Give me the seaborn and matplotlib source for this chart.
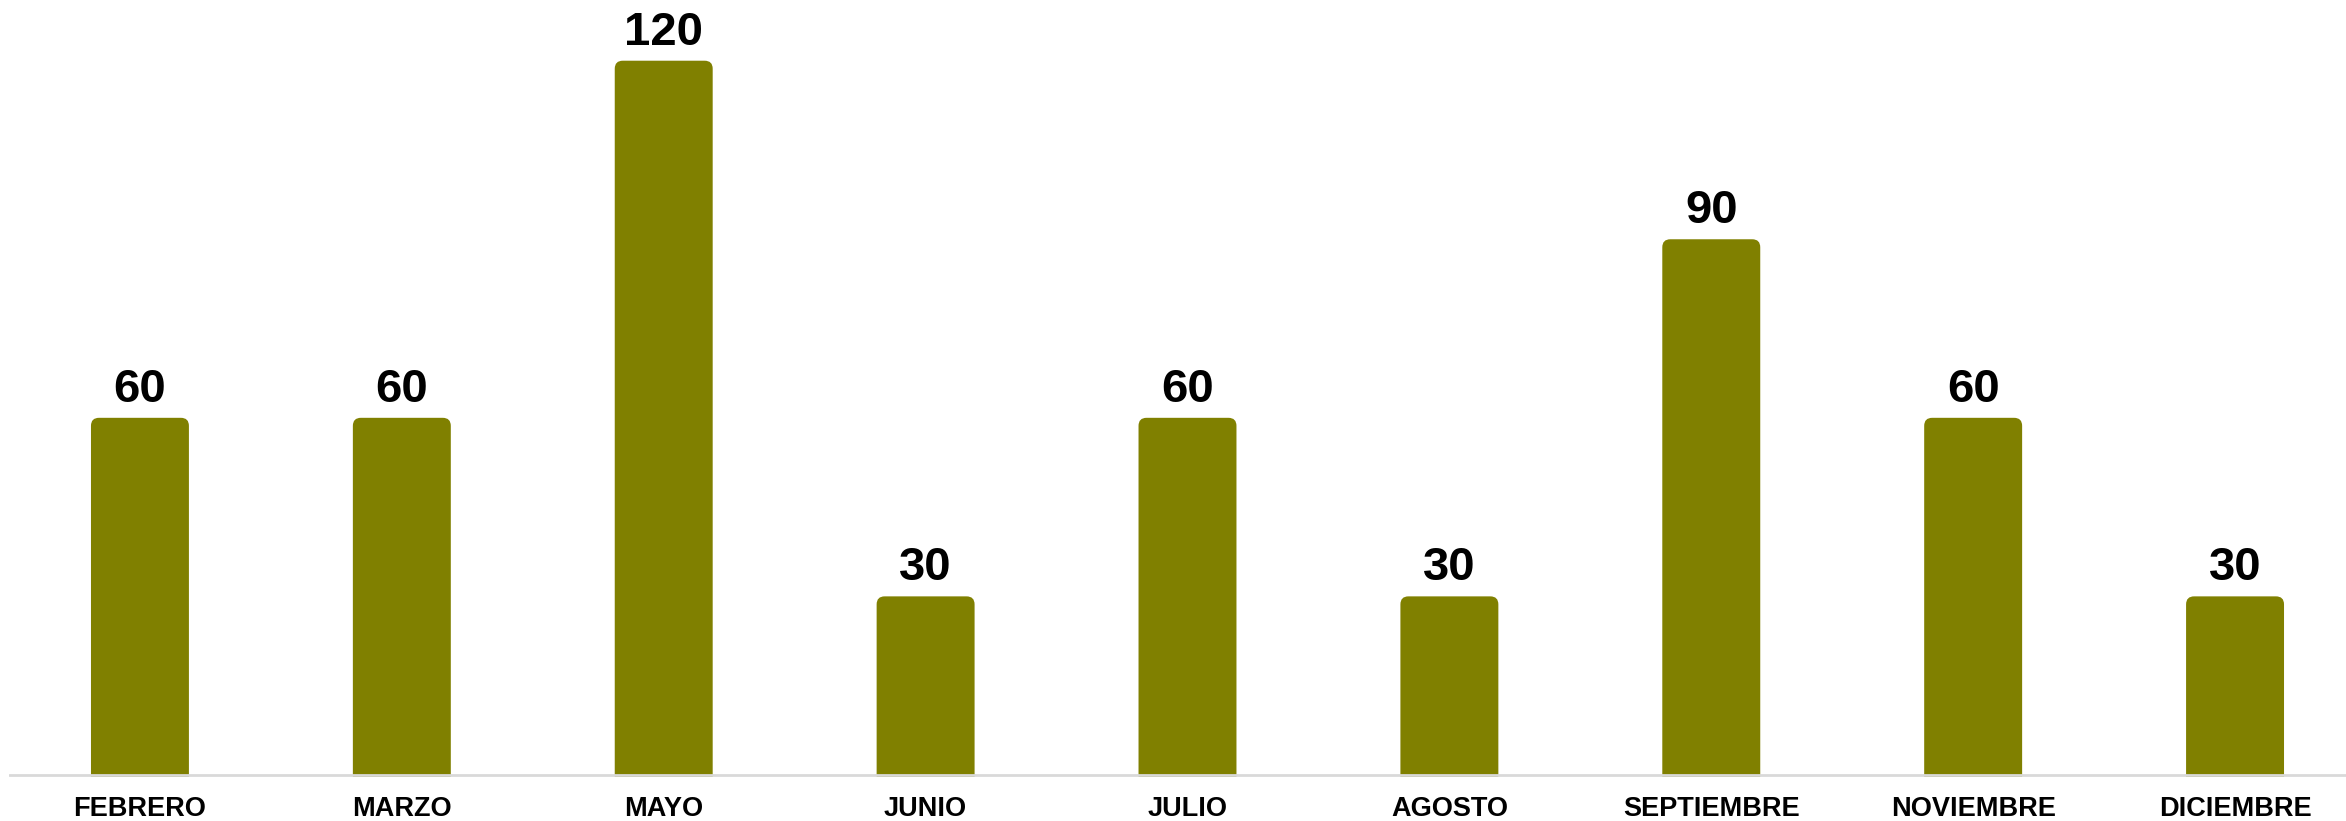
import matplotlib
matplotlib.use("Agg")

import matplotlib.pyplot as plt
import pandas as pd
import seaborn as sns
from matplotlib.patches import FancyBboxPatch

# -- data ------------------------------------------------------------
months = ["FEBRERO", "MARZO", "MAYO", "JUNIO", "JULIO",
          "AGOSTO", "SEPTIEMBRE", "NOVIEMBRE", "DICIEMBRE"]
values = [60, 60, 120, 30, 60, 30, 90, 60, 30]

BAR_COLOR = "#808000"
AXIS_COLOR = "#d9d9d9"

sns.set_theme(style="white")
plt.rcParams["font.family"] = ["Liberation Sans", "DejaVu Sans"]

df = pd.DataFrame({"month": months, "value": values})

fig = plt.figure(figsize=(23.46, 8.21), dpi=100)
ax = fig.add_axes([9 / 2346, 44 / 821, 1 - 9 / 2346, 777 / 821])

sns.barplot(data=df, x="month", y="value", color=BAR_COLOR,
            width=0.374, saturation=1, ax=ax)

ax.set_xlim(-0.5, (2346 - 139) / 262)
ax.set_ylim(-0.35, 130.2)

# swap plain bars for rounded ones
x_per_px = 1 / 262
y_per_px = 130.55 / 777
for p in list(ax.patches):
    x, w, h = p.get_x(), p.get_width(), p.get_height()
    rb = FancyBboxPatch((x, -3), w, h + 3,
                        boxstyle=f"round,pad=0,rounding_size={8 * x_per_px}",
                        mutation_aspect=y_per_px / x_per_px,
                        facecolor=BAR_COLOR, edgecolor="none", zorder=2)
    p.remove()
    ax.add_patch(rb)
    ax.text(x + w / 2, h + 1.0, f"{h:.0f}", ha="center", va="bottom",
            fontsize=34, fontweight="bold", color="black")

ax.axhline(0, color=AXIS_COLOR, linewidth=2, zorder=3)
for s in ax.spines.values():
    s.set_visible(False)
ax.set_yticks([])
ax.set_xlabel("")
ax.set_ylabel("")
ax.tick_params(axis="x", length=0, pad=14, labelsize=19.5)
for lbl in ax.get_xticklabels():
    lbl.set_fontweight("bold")
    lbl.set_color("black")

fig.savefig("out.png", dpi=100)
plt.close(fig)
